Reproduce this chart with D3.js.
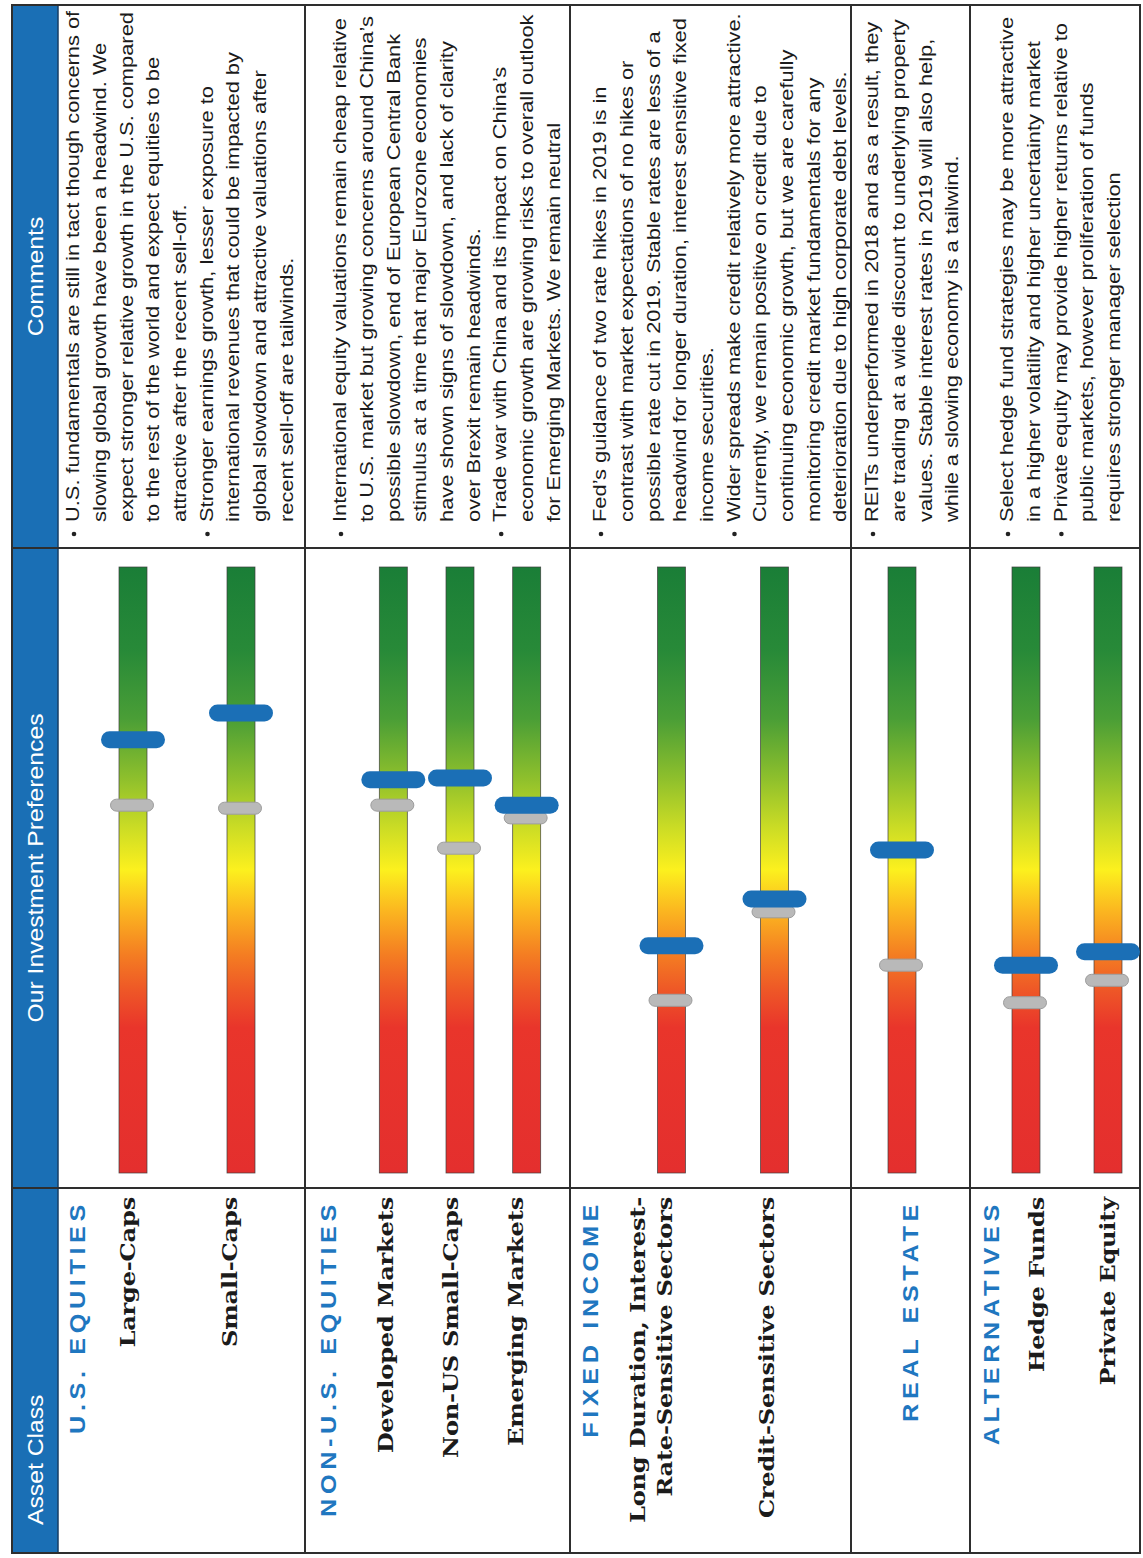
<!DOCTYPE html>
<html>
<head>
<meta charset="utf-8">
<script src="https://cdn.jsdelivr.net/npm/d3@7"></script>
<style>
  html, body { margin: 0; padding: 0; background: #fff; }
  svg { display: block; }
</style>
</head>
<body>
<svg id="chart" width="1143" height="1558"></svg>
<script>
// ---------------- data ----------------
const groups = ["U.S. EQUITIES", "NON-U.S. EQUITIES", "FIXED INCOME", "REAL ESTATE", "ALTERNATIVES"];

const assets = [
  "Large-Caps", "Small-Caps",
  "Developed Markets", "Non-US Small-Caps", "Emerging Markets",
  "Long Duration, Interest-Rate-Sensitive Sectors", "Credit-Sensitive Sectors",
  "Real Estate",
  "Hedge Funds", "Private Equity"
];
const assetGroup = [0, 0, 1, 1, 1, 2, 2, 3, 4, 4];
// label text as printed (empty = no sub-label under the group heading)
const assetLabelLines = [
  ["Large-Caps"], ["Small-Caps"],
  ["Developed Markets"], ["Non-US Small-Caps"], ["Emerging Markets"],
  ["Long Duration, Interest-", "Rate-Sensitive Sectors"], ["Credit-Sensitive Sectors"],
  [],
  ["Hedge Funds"], ["Private Equity"]
];

// preference on a 0 (least attractive) .. 100 (most attractive) scale
const currentView = [71.5, 75.9, 64.9, 65.2, 60.7, 37.5, 45.2, 53.3, 34.3, 36.5];
const priorView   = [60.7, 60.2, 60.7, 53.6, 58.6, 28.5, 43.1, 34.3, 28.1, 31.8];

const headers = ["Asset Class", "Our Investment Preferences", "Comments"];

const comments = [
  [
    ["U.S. fundamentals are still in tact though concerns of",
     "slowing global growth have been a headwind. We",
     "expect stronger relative growth in the U.S. compared",
     "to the rest of the world and expect equities to be",
     "attractive after the recent sell-off."],
    ["Stronger earnings growth, lesser exposure to",
     "international revenues that could be impacted by",
     "global slowdown and attractive valuations after",
     "recent sell-off are tailwinds."]
  ],
  [
    ["International equity valuations remain cheap relative",
     "to U.S. market but growing concerns around China\u2019s",
     "possible slowdown, end of European Central Bank",
     "stimulus at a time that major Eurozone economies",
     "have shown signs of slowdown,  and lack of clarity",
     "over Brexit remain headwinds."],
    ["Trade war with China and its impact on China\u2019s",
     "economic growth are growing risks to overall outlook",
     "for Emerging Markets. We remain neutral"]
  ],
  [
    ["Fed\u2019s guidance of two rate hikes in 2019 is in",
     "contrast with market expectations of no hikes or",
     "possible rate cut in 2019. Stable rates are less of a",
     "headwind for longer duration, interest sensitive fixed",
     "income securities."],
    ["Wider spreads make credit relatively more attractive.",
     "Currently, we remain positive on credit due to",
     "continuing economic growth,  but we are carefully",
     "monitoring credit market fundamentals for any",
     "deterioration due to high corporate debt levels."]
  ],
  [
    ["REITs underperformed in 2018 and as a result, they",
     "are trading at a wide discount to underlying property",
     "values.  Stable interest rates in 2019 will also help,",
     "while a slowing economy is a tailwind."]
  ],
  [
    ["Select hedge fund strategies may be more attractive",
     "in a higher volatility and higher uncertainty market"],
    ["Private equity may provide higher returns relative to",
     "public markets, however proliferation of funds",
     "requires stronger manager selection"]
  ]
];

// ---------------- layout ----------------
// The table is laid out in a landscape frame (x runs along the columns,
// y runs down the rows) and then turned a quarter turn counter-clockwise.
const PAGE_W = 1143, PAGE_H = 1558;
const STRETCH = 1.15;                  // horizontal stretch of the type
const tableX = [5, 1553];
const tableY = [12, 1140];
const headerY = [12, 58];
const assetCol = [5, 370], prefCol = [370, 1010], commCol = [1010, 1553];
const rowEdges = [58, 305, 570, 851, 970, 1140];
const barSpan   = [[79, 295], [360, 560], [620, 826], [862, 942], [985, 1149]];
const labelSpan = [[77, 281], [353.5, 548.5], [593, 825], [862, 942], [1001.5, 1143.5]];
const groupLabelY = [77, 328, 590, 910, 991];
const commentFirstY = [74, 341, 601, 873, 1008];
const commentStep = 26.7;

const BAR_W = 28;
const BLUE_LEN = 64, BLUE_THICK = 17;
const GRAY_LEN = 43, GRAY_THICK = 12;

const blue = "#1b6fb6";
const groupBlue = "#1f77c0";
const lineColor = "#2e2e2e";

const svg = d3.select("#chart");
svg.append("rect").attr("width", PAGE_W).attr("height", PAGE_H).attr("fill", "#fff");

const defs = svg.append("defs");
const grad = defs.append("linearGradient")
  .attr("id", "prefGrad").attr("x1", 0).attr("x2", 1).attr("y1", 0).attr("y2", 0);
[
  [0.00, "#e42f2e"], [0.24, "#e9352b"], [0.30, "#ee5627"], [0.36, "#f47d22"],
  [0.43, "#fbb420"], [0.50, "#fcf01e"], [0.57, "#cbdc25"], [0.65, "#8fc02c"],
  [0.75, "#4a9e36"], [0.86, "#288a38"], [1.00, "#1a7e37"]
].forEach(([o, c]) => grad.append("stop").attr("offset", o).attr("stop-color", c));

const g = svg.append("g").attr("transform", `translate(0,${PAGE_H}) rotate(-90)`);

// value scale along the gauge (red end = 0, green end = 100)
const valueScale = d3.scaleLinear().domain([0, 100]).range([385, 991]);

// header band
g.append("rect")
  .attr("x", tableX[0]).attr("y", headerY[0])
  .attr("width", tableX[1] - tableX[0]).attr("height", headerY[1] - headerY[0])
  .attr("fill", "#1a6fb5");
g.selectAll("line.hdrEdge").data(headerY).join("line")
  .attr("x1", tableX[0]).attr("x2", tableX[1]).attr("y1", d => d).attr("y2", d => d)
  .attr("stroke", "#173c63").attr("stroke-width", 1.5);

// grid
g.append("rect")
  .attr("x", tableX[0]).attr("y", tableY[0])
  .attr("width", tableX[1] - tableX[0]).attr("height", tableY[1] - tableY[0])
  .attr("fill", "none").attr("stroke", lineColor).attr("stroke-width", 2);
g.selectAll("line.row").data(rowEdges.slice(1, -1)).join("line")
  .attr("x1", tableX[0]).attr("x2", tableX[1]).attr("y1", d => d).attr("y2", d => d)
  .attr("stroke", lineColor).attr("stroke-width", 2);
g.selectAll("line.col").data([assetCol[1], prefCol[1]]).join("line")
  .attr("x1", d => d).attr("x2", d => d).attr("y1", tableY[0]).attr("y2", tableY[1])
  .attr("stroke", lineColor).attr("stroke-width", 2);

// text placed at (x, y) in the landscape frame, stretched along its run
function stretchedText(sel, x, y, dy = "0.35em") {
  return sel.append("text")
    .attr("transform", `translate(${x},${y}) scale(${STRETCH},1)`)
    .attr("dy", dy);
}

// header text
const headerMid = (headerY[0] + headerY[1]) / 2;
[[assetCol[0] + 28, "start"], [(prefCol[0] + prefCol[1]) / 2, "middle"], [(commCol[0] + commCol[1]) / 2, "middle"]]
  .forEach(([x, anchor], i) => {
    stretchedText(g, x, headerMid)
      .attr("text-anchor", anchor)
      .attr("font-family", "'Liberation Sans', Arial, sans-serif")
      .attr("font-size", 21.5).attr("fill", "#fff")
      .text(headers[i]);
  });

// bar centre positions within each group row
const idx = assets.map((_, i) => i);
const barPos = groups.map((_, gi) =>
  d3.scalePoint().domain(idx.filter(i => assetGroup[i] === gi)).range(barSpan[gi]).padding(0.5));
const labelPos = groups.map((_, gi) =>
  d3.scalePoint().domain(idx.filter(i => assetGroup[i] === gi)).range(labelSpan[gi]).padding(0.5));

// gauges
const gauges = g.selectAll("g.gauge").data(idx).join("g").attr("class", "gauge")
  .attr("transform", i => `translate(0,${barPos[assetGroup[i]](i)})`);

gauges.append("rect")
  .attr("x", valueScale(0)).attr("y", -BAR_W / 2)
  .attr("width", valueScale(100) - valueScale(0)).attr("height", BAR_W)
  .attr("fill", "url(#prefGrad)")
  .attr("stroke", "#3b3b3b").attr("stroke-width", 0.8).attr("stroke-opacity", 0.85);

gauges.append("rect")
  .attr("x", i => valueScale(priorView[i]) - GRAY_THICK / 2).attr("y", -GRAY_LEN / 2 - 1)
  .attr("width", GRAY_THICK).attr("height", GRAY_LEN)
  .attr("rx", GRAY_THICK / 2).attr("ry", GRAY_THICK / 2)
  .attr("fill", "#b9b9b9").attr("stroke", "#9d9d9d").attr("stroke-width", 1);

gauges.append("rect")
  .attr("x", i => valueScale(currentView[i]) - BLUE_THICK / 2).attr("y", -BLUE_LEN / 2)
  .attr("width", BLUE_THICK).attr("height", BLUE_LEN)
  .attr("rx", BLUE_THICK / 2).attr("ry", BLUE_THICK / 2)
  .attr("fill", blue);

// group headings
groups.forEach((name, gi) => {
  stretchedText(g, assetCol[1] - 12, groupLabelY[gi])
    .attr("text-anchor", "end")
    .attr("font-family", "'Liberation Sans', Arial, sans-serif")
    .attr("font-weight", "bold").attr("font-size", 22)
    .attr("letter-spacing", 4)
    .attr("fill", groupBlue)
    .text(name);
});

// asset labels
idx.forEach(i => {
  const lines = assetLabelLines[i];
  if (!lines.length) return;
  const c = labelPos[assetGroup[i]](i);
  lines.forEach((ln, k) => {
    const y = c + (k - (lines.length - 1) / 2) * 27;
    stretchedText(g, assetCol[1] - 9, y)
      .attr("text-anchor", "end")
      .attr("font-family", "'DejaVu Serif', 'Liberation Serif', serif")
      .attr("font-weight", "bold").attr("font-size", 21)
      .attr("letter-spacing", -0.2)
      .attr("fill", "#1b1b1b")
      .text(ln);
  });
});

// comments
comments.forEach((bullets, gi) => {
  let row = 0;
  bullets.forEach(lines => {
    const y0 = commentFirstY[gi] + row * commentStep;
    g.append("circle").attr("cx", commCol[0] + 14).attr("cy", y0).attr("r", 2.3).attr("fill", "#222");
    lines.forEach(ln => {
      stretchedText(g, commCol[0] + 26, commentFirstY[gi] + row * commentStep, "0.27em")
        .attr("font-family", "'Liberation Sans', Arial, sans-serif")
        .attr("font-size", 19).attr("fill", "#1b1b1b")
        .text(ln);
      row++;
    });
  });
});
</script>
</body>
</html>
